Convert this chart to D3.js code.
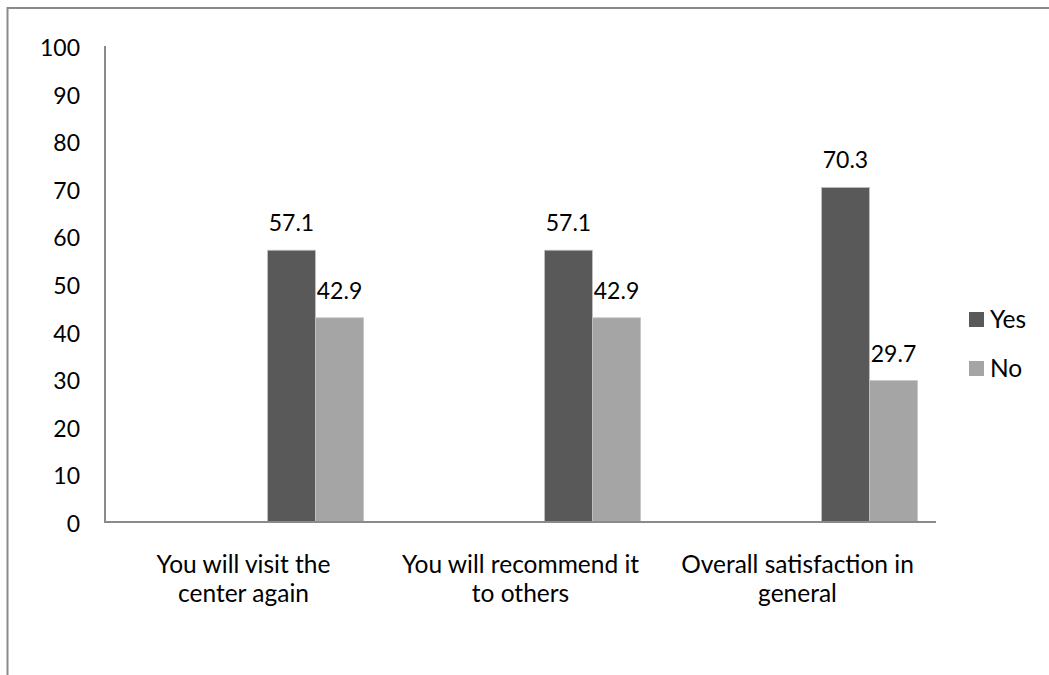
<!DOCTYPE html>
<html>
<head>
<meta charset="utf-8">
<script src="https://cdn.jsdelivr.net/npm/d3@7/dist/d3.min.js"></script>
<style>
  html, body { margin: 0; padding: 0; background: #fff; }
  svg text { font-family: Lato, 'Open Sans', sans-serif; fill: #000; }
</style>
</head>
<body>
<svg id="chart" width="1049" height="675"></svg>
<script>
// data
const categories = ['visit', 'recommend', 'overall'];
const categoryLines = [
  ['You will visit the', 'center again'],
  ['You will recommend it', 'to others'],
  ['Overall satisfaction in', 'general']
];
const series = ['Yes', 'No'];
const yesValues = [57.1, 57.1, 70.3];
const noValues = [42.9, 42.9, 29.7];
const yTicks = [0, 10, 20, 30, 40, 50, 60, 70, 80, 90, 100];

const colors = { Yes: '#595959', No: '#a5a5a5' };
const numSize = 23;
const labelSize = 24.5;

const svg = d3.select('#chart');
const margin = { top: 46, left: 105, right: 936, bottom: 522 };

// outer frame (only left and top edges are in view)
svg.append('path')
  .attr('d', 'M7.5,675 V8 H1049')
  .attr('fill', 'none')
  .attr('stroke', '#8a8a8a')
  .attr('stroke-width', 2);

const x0 = d3.scaleBand().domain(categories).range([margin.left, margin.right]).padding(0);
const bw = x0.bandwidth();
const barW = bw * 0.1733;
// bars sit right of the category centre, as in the source chart
const x1 = d3.scaleBand().domain(series).range([bw / 2 + barW / 2, bw / 2 + barW * 2.5]).padding(0);
const y = d3.scaleLinear().domain([0, 100]).range([margin.bottom, margin.top]);

const rows = categories.map((c, i) => ({ cat: c, Yes: yesValues[i], No: noValues[i] }));

// y tick labels
svg.append('g')
  .selectAll('text')
  .data(yTicks)
  .enter()
  .append('text')
  .attr('x', 80)
  .attr('y', d => y(d) + 2)
  .attr('dy', '0.35em')
  .style('text-anchor', 'end')
  .style('font-size', numSize + 'px')
  .text(d => d);

// bars
const group = svg.selectAll('.cat')
  .data(rows)
  .enter()
  .append('g')
  .attr('class', 'cat')
  .attr('transform', d => `translate(${x0(d.cat)},0)`);

group.selectAll('rect')
  .data(d => series.map(key => ({ key, value: d[key] })))
  .enter()
  .append('rect')
  .attr('x', d => x1(d.key))
  .attr('y', d => y(d.value))
  .attr('width', x1.bandwidth())
  .attr('height', d => y(0) - y(d.value))
  .attr('fill', d => colors[d.key])
  .attr('stroke', '#c4c4c4')
  .attr('stroke-width', 0.8);

group.selectAll('text.val')
  .data(d => series.map(key => ({ key, value: d[key] })))
  .enter()
  .append('text')
  .attr('class', 'val')
  .attr('x', d => x1(d.key) + x1.bandwidth() / 2)
  .attr('y', d => y(d.value) - 19)
  .style('text-anchor', 'middle')
  .style('font-size', numSize + 'px')
  .text(d => d.value.toFixed(1));

// axes lines
svg.append('line')
  .attr('x1', margin.left).attr('x2', margin.left)
  .attr('y1', margin.top).attr('y2', margin.bottom + 1)
  .attr('stroke', '#8a8a8a').attr('stroke-width', 2);
svg.append('line')
  .attr('x1', margin.left - 1).attr('x2', margin.right)
  .attr('y1', margin.bottom).attr('y2', margin.bottom)
  .attr('stroke', '#8a8a8a').attr('stroke-width', 2);

// category labels
const catLabel = svg.append('g')
  .selectAll('text')
  .data(categories)
  .enter()
  .append('text')
  .attr('x', d => x0(d) + bw / 2)
  .attr('y', 573)
  .style('text-anchor', 'middle')
  .style('font-size', labelSize + 'px');

catLabel.selectAll('tspan')
  .data((d, i) => categoryLines[i])
  .enter()
  .append('tspan')
  .attr('x', function () { return d3.select(this.parentNode).attr('x'); })
  .attr('dy', (d, i) => i === 0 ? 0 : 29)
  .text(d => d);

// legend
const legend = svg.append('g')
  .selectAll('g')
  .data(series)
  .enter()
  .append('g')
  .attr('transform', (d, i) => `translate(969,${312 + i * 49})`);

legend.append('rect')
  .attr('width', 15)
  .attr('height', 15)
  .attr('fill', d => colors[d]);

legend.append('text')
  .attr('x', 21)
  .attr('y', 16)
  .style('font-size', labelSize + 'px')
  .text(d => d);
</script>
</body>
</html>
